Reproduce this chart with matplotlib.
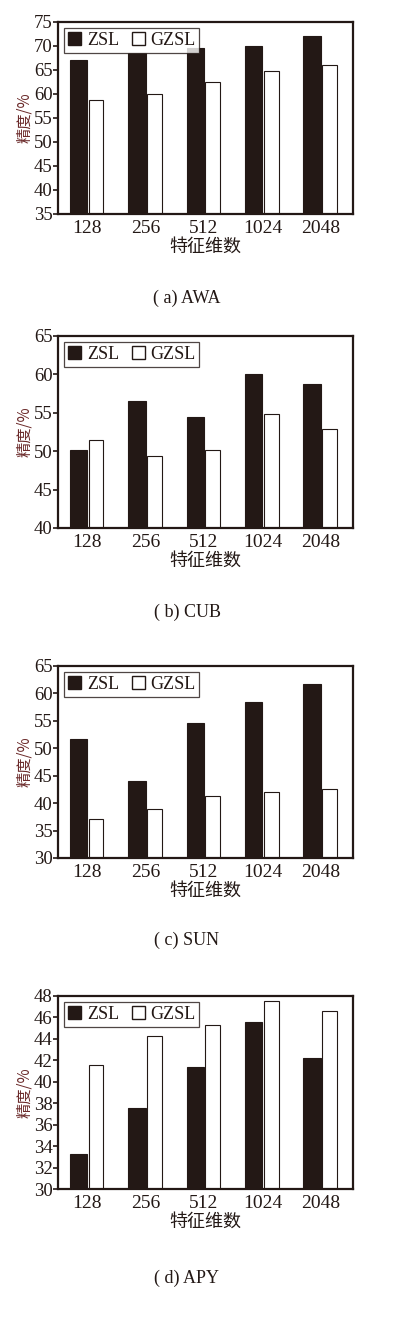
import numpy as np
import matplotlib
matplotlib.use("Agg")
import matplotlib.pyplot as plt
from matplotlib.patches import Patch

plt.rcParams['font.family'] = ['Liberation Serif', 'Noto Sans CJK SC']

dims = ['128', '256', '512', '1024', '2048']

awa_zsl = [67.0, 68.5, 69.6, 70.0, 72.1]
awa_gzsl = [58.7, 59.9, 62.4, 64.7, 66.1]

cub_zsl = [50.1, 56.6, 54.4, 60.1, 58.8]
cub_gzsl = [51.4, 49.4, 50.2, 54.8, 52.9]

sun_zsl = [51.7, 44.1, 54.7, 58.5, 61.8]
sun_gzsl = [37.1, 38.9, 41.3, 42.0, 42.6]

apy_zsl = [33.3, 37.6, 41.4, 45.6, 42.2]
apy_gzsl = [41.6, 44.3, 45.3, 47.5, 46.6]

panels = [
    ('( a) AWA', awa_zsl, awa_gzsl, (35, 75), np.arange(35, 76, 5)),
    ('( b) CUB', cub_zsl, cub_gzsl, (40, 65), np.arange(40, 66, 5)),
    ('( c) SUN', sun_zsl, sun_gzsl, (30, 65), np.arange(30, 66, 5)),
    ('( d) APY', apy_zsl, apy_gzsl, (30, 48), np.arange(30, 49, 2)),
]

dark = '#231815'
W, H = 395, 1325
fig = plt.figure(figsize=(W / 100, H / 100), dpi=100)

# axes boxes in pixels: top, bottom
boxes = [(22, 214), (336, 528), (666, 858), (996, 1189)]
captions_y = [298, 612, 940, 1278]

x = np.arange(len(dims))
bw = 0.3

for (cap, zsl, gzsl, ylim, yt), (top, bot), cy in zip(panels, boxes, captions_y):
    ax = fig.add_axes([58 / W, 1 - bot / H, (353 - 58) / W, (bot - top) / H])
    ax.bar(x - bw / 2, np.array(zsl) - ylim[0], bw, bottom=ylim[0],
           color=dark, edgecolor=dark, linewidth=0.8)
    ax.bar(x + bw / 2, np.array(gzsl) - ylim[0], bw * 0.85, bottom=ylim[0],
           color='white', edgecolor=dark, linewidth=0.8)
    ax.set_xlim(-0.5, 4.55)
    ax.set_ylim(*ylim)
    ax.set_yticks(yt)
    ax.set_yticklabels([str(v) for v in yt], fontsize=13.5, color=dark)
    ax.set_xticks(x)
    ax.set_xticklabels(dims, fontsize=14, color=dark)
    ax.tick_params(axis='x', length=0, pad=4)
    ax.tick_params(axis='y', direction='out', length=3.5, width=1.2,
                   color=dark, pad=0.5)
    for s in ax.spines.values():
        s.set_linewidth(1.6)
        s.set_color(dark)
    ax.set_xlabel('特征维数', fontsize=13, color=dark,
                  family=['Noto Sans CJK SC'], labelpad=0.5)
    ax.set_ylabel('精度/%', fontsize=11, color='#6b2a2a',
                  family=['Noto Sans CJK SC', 'Liberation Serif'])
    ax.yaxis.set_label_coords(-0.085, 0.5)
    handles = [Patch(facecolor=dark, edgecolor=dark, label='ZSL'),
               Patch(facecolor='white', edgecolor=dark, label='GZSL')]
    leg = ax.legend(handles=handles, loc='upper left', ncol=2, fontsize=13,
                    frameon=True, fancybox=False, handlelength=0.75,
                    handleheight=0.75, handletextpad=0.3, columnspacing=0.7,
                    borderpad=0.2, borderaxespad=0.35)
    leg.get_frame().set_edgecolor(dark)
    leg.get_frame().set_linewidth(0.9)
    for t in leg.get_texts():
        t.set_color(dark)
    fig.text(187 / W, 1 - cy / H, cap, ha='center', va='center',
             fontsize=13, color=dark)

fig.savefig('out.png', dpi=100)
